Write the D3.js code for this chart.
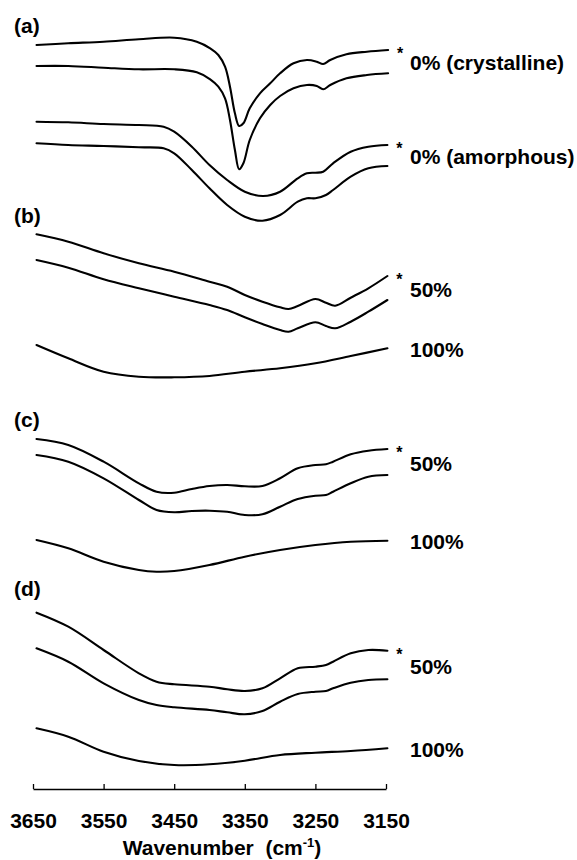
<!DOCTYPE html>
<html>
<head>
<meta charset="utf-8">
<script src="https://cdn.jsdelivr.net/npm/d3@7"></script>
<style>
  html, body { margin: 0; padding: 0; background: #fff; }
  svg { display: block; }
  text { font-family: "Liberation Sans", Arial, sans-serif; font-weight: bold; fill: #000; }
</style>
</head>
<body>
<svg id="chart" width="577" height="860"></svg>
<script>
// ---------- DATA (wavenumber in cm-1, transmittance in arbitrary units, offset stacked) ----------
const xTicks = [3650, 3550, 3450, 3350, 3250, 3150];
const panelLetters = ["(a)", "(b)", "(c)", "(d)"];
const groupLabels = ["0% (crystalline)", "0% (amorphous)", "50%", "100%", "50%", "100%", "50%", "100%"];
const axisTitle = "Wavenumber  (cm";
const axisTitleSup = "-1";

// (a) 0% crystalline
const wnA1 = [3645, 3600, 3550, 3500, 3450, 3418, 3399, 3387.5, 3378, 3371, 3364, 3358, 3352, 3343, 3328.5, 3314, 3300, 3281, 3262, 3248, 3239, 3229, 3206, 3177, 3147];
const tA1  = [74.5, 74.67, 74.83, 75.07, 75.23, 74.83, 74.17, 73.5, 72.33, 70.33, 67.67, 66.4, 66.67, 68.17, 69.67, 70.67, 71.67, 72.67, 73.0, 72.83, 72.6, 73.0, 73.57, 73.83, 74.0];
const wnA2 = wnA1;
const tA2  = [72.4, 72.4, 72.23, 72.07, 72.07, 71.77, 71.07, 70.33, 69.17, 67.0, 64.0, 62.07, 62.67, 65.0, 67.17, 68.5, 69.4, 70.17, 70.5, 70.4, 70.07, 70.5, 71.17, 71.5, 71.67];
// (a) 0% amorphous
const wnA3 = [3645, 3600, 3550, 3500, 3465, 3450, 3425, 3400, 3375, 3350, 3324, 3300, 3275, 3262, 3250, 3239, 3225, 3200, 3175, 3148];
const tA3  = [66.83, 66.77, 66.6, 66.5, 66.33, 65.83, 64.33, 62.5, 61.0, 59.83, 59.4, 59.83, 61.17, 61.67, 61.73, 61.83, 62.67, 63.83, 64.33, 64.5];
const wnA4 = [3645, 3600, 3550, 3500, 3465, 3450, 3425, 3400, 3375, 3350, 3325, 3300, 3275, 3262, 3250, 3235, 3225, 3200, 3175, 3148];
const tA4  = [64.67, 64.5, 64.4, 64.27, 64.17, 63.67, 62.0, 60.17, 58.5, 57.33, 56.93, 57.5, 58.83, 59.17, 59.17, 59.5, 60.0, 61.33, 62.17, 62.4];
// (b) 50% and 100%
const wnB1 = [3645, 3600, 3550, 3500, 3450, 3400, 3375, 3350, 3325, 3300, 3288, 3275, 3250, 3235, 3222, 3200, 3175, 3148];
const tB1  = [55.57, 54.83, 53.67, 52.67, 51.83, 50.83, 50.33, 49.5, 48.83, 48.27, 48.1, 48.4, 49.1, 48.73, 48.43, 49.23, 50.17, 51.4];
const wnB2 = wnB1;
const tB2  = [53.0, 52.23, 51.07, 50.17, 49.33, 48.5, 48.0, 47.27, 46.6, 46.0, 45.83, 46.17, 46.77, 46.4, 46.17, 46.83, 47.83, 49.0];
const wnB3 = [3645, 3600, 3550, 3500, 3450, 3400, 3350, 3300, 3250, 3200, 3148];
const tB3  = [44.5, 43.17, 41.83, 41.33, 41.27, 41.4, 41.83, 42.17, 42.67, 43.4, 44.17];
// (c) 50% and 100%
const wnC1 = [3645, 3600, 3550, 3500, 3475, 3450, 3425, 3400, 3375, 3350, 3325, 3300, 3275, 3250, 3235, 3225, 3200, 3175, 3148];
const tC1  = [35.1, 34.5, 32.83, 30.67, 29.83, 29.73, 30.1, 30.4, 30.5, 30.37, 30.4, 31.17, 32.17, 32.5, 32.57, 32.83, 33.57, 33.93, 34.1];
const wnC2 = wnC1;
const tC2  = [33.5, 32.83, 31.17, 29.0, 28.0, 27.77, 27.9, 27.93, 27.83, 27.5, 27.57, 28.33, 29.1, 29.43, 29.5, 29.83, 30.67, 31.33, 31.5];
const wnC3 = [3645, 3600, 3550, 3500, 3475, 3450, 3400, 3350, 3300, 3250, 3200, 3148];
const tC3  = [25.0, 24.17, 22.83, 22.0, 21.83, 21.9, 22.5, 23.33, 24.0, 24.5, 24.83, 24.93];
// (d) 50% and 100%
const wnD1 = [3645, 3600, 3550, 3500, 3475, 3450, 3400, 3375, 3350, 3325, 3300, 3275, 3250, 3235, 3225, 3200, 3175, 3148];
const tD1  = [17.73, 16.33, 14.0, 11.67, 10.83, 10.57, 10.33, 10.07, 9.9, 10.17, 11.17, 12.17, 12.33, 12.5, 12.83, 13.67, 14.0, 13.93];
const wnD2 = wnD1;
const tD2  = [14.17, 12.83, 10.67, 9.0, 8.5, 8.27, 8.0, 7.77, 7.57, 7.9, 8.83, 9.6, 9.83, 9.9, 10.17, 10.73, 11.0, 11.07];
const wnD3 = [3645, 3600, 3550, 3500, 3450, 3400, 3350, 3300, 3250, 3200, 3148];
const tD3  = [6.17, 5.33, 3.83, 2.9, 2.5, 2.57, 2.93, 3.5, 3.73, 3.9, 4.17];

// groups: each labelled trace (pairs of lines with '*' on the upper one, or single lines)
const groups = [
  { lines: [[wnA1, tA1], [wnA2, tA2]], star: true },
  { lines: [[wnA3, tA3], [wnA4, tA4]], star: true },
  { lines: [[wnB1, tB1], [wnB2, tB2]], star: true },
  { lines: [[wnB3, tB3]], star: false },
  { lines: [[wnC1, tC1], [wnC2, tC2]], star: true },
  { lines: [[wnC3, tC3]], star: false },
  { lines: [[wnD1, tD1], [wnD2, tD2]], star: true },
  { lines: [[wnD3, tD3]], star: false }
];

// ---------- LAYOUT ----------
const svg = d3.select("#chart");
const x = d3.scaleLinear().domain([3650, 3150]).range([33, 386]);
const y = d3.scaleLinear().domain([0, 78]).range([790, 10]);
const axisY = 789;
const letterPos = [33, 223, 427, 596];

const line = d3.line()
  .x(d => x(d[0]))
  .y(d => y(d[1]))
  .curve(d3.curveCatmullRom.alpha(0.5));

groups.forEach((g, gi) => {
  g.lines.forEach(([wn, t]) => {
    const pts = wn.map((w, i) => [w, t[i]]);
    svg.append("path")
      .attr("d", line(pts))
      .attr("fill", "none")
      .attr("stroke", "#000")
      .attr("stroke-width", 2.1)
      .attr("stroke-linejoin", "round")
      .attr("stroke-linecap", "round");
  });
  const ends = g.lines.map(([wn, t]) => [wn[wn.length - 1], t[t.length - 1]]);
  const topEnd = ends[0];
  if (g.star) {
    svg.append("text")
      .attr("x", x(topEnd[0]) + 12)
      .attr("y", y(topEnd[1]) + 9)
      .attr("text-anchor", "middle")
      .attr("font-size", 16)
      .text("*");
  }
  const midY = d3.mean(ends, e => y(e[1]));
  svg.append("text")
    .attr("x", 410)
    .attr("y", midY + 8.5)
    .attr("font-size", 21)
    .text(groupLabels[gi]);
});

panelLetters.forEach((l, i) => {
  svg.append("text")
    .attr("x", 14)
    .attr("y", letterPos[i])
    .attr("font-size", 21)
    .text(l);
});

// axis
const axis = d3.axisBottom(x)
  .tickValues(xTicks)
  .tickFormat(d3.format("d"))
  .tickSizeInner(-5)
  .tickSizeOuter(0)
  .tickPadding(24);

const ax = svg.append("g")
  .attr("transform", `translate(0,${axisY})`)
  .call(axis);
ax.select(".domain").attr("stroke", "#000").attr("stroke-width", 1.3);
ax.selectAll(".tick line").attr("stroke", "#000").attr("stroke-width", 1.3);
ax.selectAll(".tick text")
  .attr("font-size", 21)
  .attr("font-family", "'Liberation Sans', Arial, sans-serif")
  .attr("font-weight", "bold")
  .attr("fill", "#000");

const title = svg.append("text")
  .attr("x", 222)
  .attr("y", 855)
  .attr("text-anchor", "middle")
  .attr("font-size", 21)
  .style("white-space", "pre");
title.append("tspan").text(axisTitle);
title.append("tspan").attr("font-size", 13).attr("dy", -8).text(axisTitleSup);
title.append("tspan").attr("dy", 8).text(")");
</script>
</body>
</html>
